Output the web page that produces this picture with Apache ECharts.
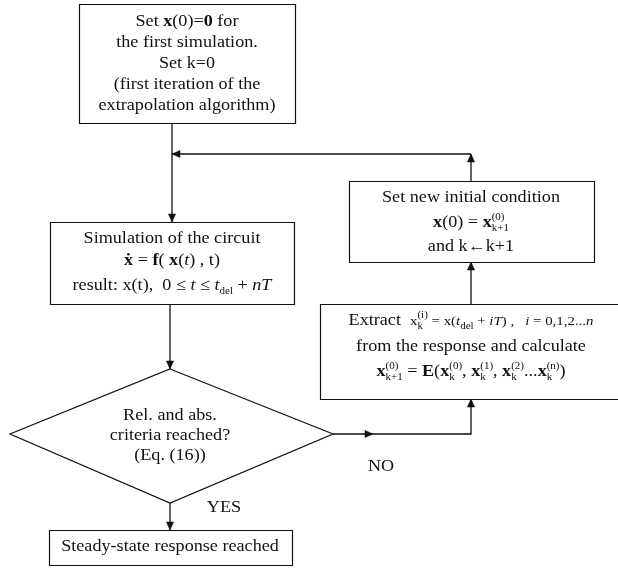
<!DOCTYPE html>
<html><head><meta charset="utf-8">
<script src="https://cdn.jsdelivr.net/npm/echarts@6/dist/echarts.min.js"></script>
<style>html,body{margin:0;padding:0;background:#fff}#c{width:618px;height:573px}</style>
</head><body><div id="c"></div>
<script>
// ---------- flowchart content ----------
const startLines = ['Set {b|x}(0)={b|0} for', 'the first simulation.', 'Set k=0', '(first iteration of the', 'extrapolation algorithm)'];
const simLines = ['Simulation of the circuit', '{b|ẋ} = {b|f}( {b|x}({i|t}) , t)', 'result: x(t),  0 ≤ {i|t} ≤ {i|t}{sub|del} + {i|nT}'];
const updateLines = ['Set new initial condition', '{b|x}(0) = {b|x}{supz|(0)}{sub|k+1}', 'and k←k+1'];
const extractLines = [
  'Extract  {m|x}{subz|k}{sup|(i)}{m| = x(}{mi|t}{sub|del}{m| + }{mi|iT}{m|) ,   }{mi|i}{m| = 0,1,2...}{mi|n}',
  'from the response and calculate',
  '{b|x}{supz|(0)}{sub|k+1} = {b|E}({b|x}{subz|k}{sup|(0)}, {b|x}{subz|k}{sup|(1)}, {b|x}{subz|k}{sup|(2)}...{b|x}{subz|k}{sup|(n)})'
];
const decisionLines = ['Rel. and abs.', 'criteria reached?', '(Eq. (16))'];
const doneLines = ['Steady-state response reached'];
const branchLabels = ['YES', 'NO'];

// ---------- layout (diagram units = page pixels) ----------
const nodeRects = [[79, 4, 295, 123], [50, 222, 294, 304], [349, 181, 594, 262], [320, 304, 630, 399], [49, 530, 292, 565]];
const diamondPts = [[170, 369], [333, 434], [170, 503], [10, 434]];
const edgePaths = [
  [[172, 123], [172, 222]],
  [[471, 154], [172, 154]],
  [[471, 181], [471, 154]],
  [[471, 304], [471, 262]],
  [[170, 304], [170, 369]],
  [[333, 434], [471, 434], [471, 399]],
  [[170, 503], [170, 530]]
];
const midArrows = [[[333, 434], [373, 434]]];
const textBlocks = [
  {lines: startLines, cx: 187, ys: [22, 43, 64, 85, 106]},
  {lines: simLines, cx: 172, ys: [239, 261, 286]},
  {lines: updateLines, cx: 471, ys: [198, 223, 247]},
  {lines: extractLines, cx: 471, ys: [321, 347, 372]},
  {lines: decisionLines, cx: 170, ys: [416, 436, 456]},
  {lines: doneLines, cx: 170, ys: [547]},
  {lines: [branchLabels[0]], cx: 224, ys: [508]},
  {lines: [branchLabels[1]], cx: 381, ys: [467]}
];

const textItems = [];
textBlocks.forEach(b => b.lines.forEach((t, j) => textItems.push({x: b.cx, y: b.ys[j], text: t})));

const FF = 'Liberation Serif';
const INK = '#111';
const TEXT_STRETCH = 1.1;
const styleDefs = {
  base: {size: 16.5},
  b: {size: 16.5, weight: 'bold'},
  i: {size: 16.5, style: 'italic'},
  m: {size: 13.5},
  mi: {size: 13.5, style: 'italic'},
  sup: {size: 10, dy: -6},
  supz: {size: 10, dy: -6, zero: true},
  sub: {size: 10, dy: 5},
  subz: {size: 10, dy: 5, zero: true}
};
const measureCtx = document.createElement('canvas').getContext('2d');
function fontOf(s) {
  return (s.style || 'normal') + ' ' + (s.weight || 'normal') + ' ' + s.size + 'px "' + FF + '"';
}
function layoutLine(str) {
  const toks = [];
  const re = /\{(\w+)\|([^}]*)\}/g;
  let last = 0, m;
  while ((m = re.exec(str))) {
    if (m.index > last) toks.push(['base', str.slice(last, m.index)]);
    toks.push([m[1], m[2]]);
    last = re.lastIndex;
  }
  if (last < str.length) toks.push(['base', str.slice(last)]);
  let x = 0, pendingW = 0;
  const parts = [];
  toks.forEach(([name, text]) => {
    const s = styleDefs[name] || styleDefs.base;
    measureCtx.font = fontOf(s);
    const w = measureCtx.measureText(text).width;
    parts.push({x, text, s});
    if (s.zero) { pendingW = w; return; }
    x += Math.max(w, pendingW);
    pendingW = 0;
  });
  return {width: x, parts};
}
const laidOut = textItems.map(t => layoutLine(t.text));

function arrowHead(a, b) {
  const dx = b[0] - a[0], dy = b[1] - a[1];
  const len = Math.sqrt(dx * dx + dy * dy) || 1;
  const ux = dx / len, uy = dy / len;
  const L = 8, W = 3.6;
  const bx = b[0] - ux * L, by = b[1] - uy * L;
  return {type: 'polygon', shape: {points: [[b[0], b[1]], [bx - uy * W, by + ux * W], [bx + uy * W, by - ux * W]]},
    style: {fill: INK, stroke: INK, lineWidth: 0.5}};
}

const chart = echarts.init(document.getElementById('c'), null, {renderer: 'canvas'});
chart.setOption({
  animation: false,
  backgroundColor: '#fff',
  grid: {left: 0, right: 0, top: 0, bottom: 0},
  xAxis: {type: 'value', min: 0, max: 618, show: false},
  yAxis: {type: 'value', min: 0, max: 573, inverse: true, show: false},
  series: [
    {
      type: 'custom', name: 'edges', clip: false, silent: true,
      data: edgePaths.map((_, i) => [i, 0]),
      renderItem(params, api) {
        const pts = edgePaths[api.value(0)].map(p => api.coord(p));
        return {type: 'group', children: [
          {type: 'polyline', shape: {points: pts}, style: {stroke: INK, lineWidth: 1.3, fill: null}},
          arrowHead(pts[pts.length - 2], pts[pts.length - 1])
        ]};
      }
    },
    {
      type: 'custom', name: 'midArrows', clip: false, silent: true,
      data: midArrows.map((_, i) => [i, 0]),
      renderItem(params, api) {
        const pts = midArrows[api.value(0)].map(p => api.coord(p));
        return arrowHead(pts[0], pts[1]);
      }
    },
    {
      type: 'custom', name: 'boxes', clip: false, silent: true,
      data: nodeRects,
      renderItem(params, api) {
        const p0 = api.coord([api.value(0), api.value(1)]);
        const p1 = api.coord([api.value(2), api.value(3)]);
        return {type: 'rect',
          shape: {x: Math.min(p0[0], p1[0]) + 0.5, y: Math.min(p0[1], p1[1]) + 0.5,
                  width: Math.abs(p1[0] - p0[0]), height: Math.abs(p1[1] - p0[1])},
          style: {fill: '#fff', stroke: INK, lineWidth: 1.2}};
      }
    },
    {
      type: 'custom', name: 'decision', clip: false, silent: true,
      data: [[0, 0]],
      renderItem(params, api) {
        return {type: 'polygon', shape: {points: diamondPts.map(p => api.coord(p))},
          style: {fill: '#fff', stroke: INK, lineWidth: 1.2}};
      }
    },
    {
      type: 'custom', name: 'texts', clip: false, silent: true,
      data: textItems.map((t, i) => [t.x, t.y, i]),
      renderItem(params, api) {
        const p = api.coord([api.value(0), api.value(1)]);
        const L = laidOut[api.value(2)];
        return {type: 'group', x: p[0], y: p[1], scaleX: TEXT_STRETCH,
          children: L.parts.map(pt => ({type: 'text', x: pt.x - L.width / 2, y: pt.s.dy || 0,
            style: {text: pt.text, fill: INK, fontFamily: FF, fontSize: pt.s.size,
              fontWeight: pt.s.weight || 'normal', fontStyle: pt.s.style || 'normal',
              align: 'left', verticalAlign: 'middle'}}))};
      }
    }
  ]
});
</script>
</body></html>
